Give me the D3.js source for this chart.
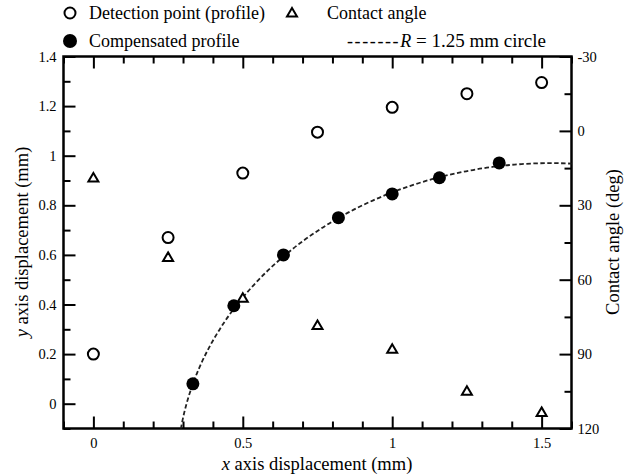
<!DOCTYPE html>
<html>
<head>
<meta charset="utf-8">
<script src="https://cdn.jsdelivr.net/npm/d3@7"></script>
<style>
  body { margin: 0; background: #fff; }
  svg { display: block; font-family: "Liberation Serif", "Times New Roman", serif; }
</style>
</head>
<body>
<svg id="chart" width="634" height="475"></svg>
<script>
// detection points (open circles)
const detectX = [0, 0.25, 0.5, 0.75, 1.0, 1.25, 1.5];
const detectY = [0.20, 0.67, 0.93, 1.095, 1.195, 1.25, 1.295];
// compensated profile (filled circles)
const compX = [0.333, 0.47, 0.636, 0.82, 1.0, 1.158, 1.358];
const compY = [0.08, 0.395, 0.60, 0.75, 0.846, 0.911, 0.971];
// contact angle (triangles, right axis)
const angleX = [0, 0.25, 0.5, 0.75, 1.0, 1.25, 1.5];
const angleDeg = [19, 51, 67.5, 78.5, 88, 105, 113.5];
// R = 1.25 mm reference circle
const circleR = 1.25, circleCx = 1.53, circleCy = -0.28;

const xMajor = [0, 0.5, 1, 1.5];
const yMajor = [0, 0.2, 0.4, 0.6, 0.8, 1, 1.2, 1.4];
const aMajor = [-30, 0, 30, 60, 90, 120];

let svg = d3.select("#chart");
let plotL = 63.5, plotR = 571.5, plotT = 56.5, plotB = 428.5;

let x = d3.scaleLinear().domain([-0.1, 1.6]).range([plotL, plotR]);
let y = d3.scaleLinear().domain([-0.1, 1.4]).range([plotB, plotT]);
let a = d3.scaleLinear().domain([120, -30]).range([plotB, plotT]);

let xMinor = d3.range(-1, 17).map(d => d / 10).filter(d => xMajor.indexOf(d) < 0);
let yMinor = d3.range(-1, 15).map(d => +(d / 10).toFixed(1)).filter(d => yMajor.indexOf(d) < 0);
let aMinor = d3.range(-15, 120, 30);

let fmt = d => String(d);

function styleAxis(g) {
  g.select(".domain").remove();
  g.selectAll("line").attr("stroke", "#000").attr("stroke-width", 2);
  g.selectAll("text").attr("fill", "#000").style("font-size", "14.5px")
    .style("font-family", "'Liberation Serif', serif");
}

// bottom
svg.append("g").attr("transform", "translate(0," + plotB + ")")
  .call(d3.axisBottom(x).tickValues(xMajor).tickSize(-12).tickPadding(9).tickFormat(fmt)).call(styleAxis);
svg.append("g").attr("transform", "translate(0," + plotB + ")")
  .call(d3.axisBottom(x).tickValues(xMinor).tickSize(-7).tickFormat("")).call(styleAxis);
// top
svg.append("g").attr("transform", "translate(0," + plotT + ")")
  .call(d3.axisTop(x).tickValues(xMajor).tickSize(-12).tickFormat("")).call(styleAxis);
svg.append("g").attr("transform", "translate(0," + plotT + ")")
  .call(d3.axisTop(x).tickValues(xMinor).tickSize(-7).tickFormat("")).call(styleAxis);
// left
svg.append("g").attr("transform", "translate(" + plotL + ",0)")
  .call(d3.axisLeft(y).tickValues(yMajor).tickSize(-12).tickPadding(7).tickFormat(fmt)).call(styleAxis);
svg.append("g").attr("transform", "translate(" + plotL + ",0)")
  .call(d3.axisLeft(y).tickValues(yMinor).tickSize(-7).tickFormat("")).call(styleAxis);
// right
svg.append("g").attr("transform", "translate(" + plotR + ",0)")
  .call(d3.axisRight(a).tickValues(aMajor).tickSize(-12).tickPadding(6).tickFormat(fmt)).call(styleAxis);
svg.append("g").attr("transform", "translate(" + plotR + ",0)")
  .call(d3.axisRight(a).tickValues(aMinor).tickSize(-7).tickFormat("")).call(styleAxis);

// frame
svg.append("rect")
  .attr("x", plotL).attr("y", plotT)
  .attr("width", plotR - plotL).attr("height", plotB - plotT)
  .attr("fill", "none").attr("stroke", "#000").attr("stroke-width", 2.5);

// clip for the circle
svg.append("clipPath").attr("id", "plotclip")
  .append("rect").attr("x", plotL).attr("y", plotT)
  .attr("width", plotR - plotL).attr("height", plotB - plotT);

svg.append("ellipse")
  .attr("clip-path", "url(#plotclip)")
  .attr("cx", x(circleCx)).attr("cy", y(circleCy))
  .attr("rx", x(circleCx + circleR) - x(circleCx))
  .attr("ry", y(circleCy) - y(circleCy + circleR))
  .attr("fill", "none").attr("stroke", "#222")
  .attr("stroke-width", 1.8).attr("stroke-dasharray", "4.5,2.5");

// detection points
svg.selectAll(".detect").data(detectX).enter()
  .append("circle").attr("class", "detect")
  .attr("cx", d => x(d)).attr("cy", (d, i) => y(detectY[i]))
  .attr("r", 5.5).attr("fill", "#fff").attr("stroke", "#000").attr("stroke-width", 2);

// compensated profile
svg.selectAll(".comp").data(compX).enter()
  .append("circle").attr("class", "comp")
  .attr("cx", d => x(d)).attr("cy", (d, i) => y(compY[i]))
  .attr("r", 6.5).attr("fill", "#000");

// contact angle triangles
let tri = "M0,-5L5,3.5L-5,3.5Z";
svg.selectAll(".angle").data(angleX).enter()
  .append("path").attr("class", "angle")
  .attr("d", tri)
  .attr("transform", (d, i) => "translate(" + x(d) + "," + a(angleDeg[i]) + ")")
  .attr("fill", "#fff").attr("stroke", "#000").attr("stroke-width", 2).attr("stroke-linejoin", "miter");

// legend
let leg = svg.append("g").style("font-size", "18px");
leg.append("circle").attr("cx", 70).attr("cy", 13).attr("r", 5.5)
  .attr("fill", "#fff").attr("stroke", "#000").attr("stroke-width", 2);
leg.append("text").attr("x", 89).attr("y", 19).text("Detection point (profile)");
leg.append("path").attr("d", tri).attr("transform", "translate(292,13)")
  .attr("fill", "#fff").attr("stroke", "#000").attr("stroke-width", 2);
leg.append("text").attr("x", 327).attr("y", 19).text("Contact angle");
leg.append("circle").attr("cx", 70).attr("cy", 41).attr("r", 7).attr("fill", "#000");
leg.append("text").attr("x", 89).attr("y", 47).text("Compensated profile");
let rl = leg.append("text").attr("x", 347).attr("y", 47);
rl.append("tspan").style("letter-spacing", "1.6px").text("-------");
rl.append("tspan").style("font-style", "italic").text("R");
rl.append("tspan").style("font-size", "19px").text(" = 1.25 mm circle");

// axis titles
let xt = svg.append("text").attr("x", 317).attr("y", 470).attr("text-anchor", "middle").style("font-size", "18.5px");
xt.append("tspan").style("font-style", "italic").text("x");
xt.append("tspan").text(" axis displacement (mm)");

let yt = svg.append("text").attr("transform", "translate(28,242) rotate(-90)")
  .attr("text-anchor", "middle").style("font-size", "18.5px");
yt.append("tspan").style("font-style", "italic").text("y");
yt.append("tspan").text(" axis displacement (mm)");

svg.append("text").attr("transform", "translate(619,242) rotate(-90)")
  .attr("text-anchor", "middle").style("font-size", "18.5px")
  .text("Contact angle (deg)");
</script>
</body>
</html>
